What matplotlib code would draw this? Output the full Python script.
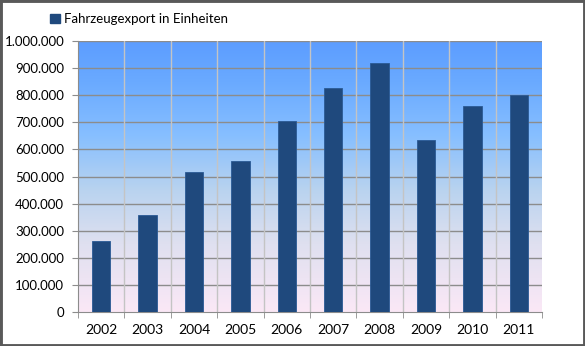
import matplotlib
matplotlib.use("agg")
import matplotlib.pyplot as plt
from matplotlib.colors import LinearSegmentedColormap
from matplotlib.patches import Rectangle, Patch
from matplotlib.ticker import FuncFormatter, MultipleLocator
import numpy as np

# Fahrzeugexport je Jahr
jahre = ["2002", "2003", "2004", "2005", "2006", "2007", "2008", "2009", "2010", "2011"]
export = [261000, 357000, 517000, 558000, 705000, 828000, 920000, 636000, 760000, 800000]

plt.rcParams['font.family'] = ['Lato', 'DejaVu Sans']

fig = plt.figure(figsize=(5.85, 3.46), dpi=100)
ax = fig.add_axes([78 / 585, 1 - 312 / 346, 464 / 585, 271 / 346])

# Hintergrund-Verlauf im Diagrammbereich (oben blau, unten rosa)
verlauf = LinearSegmentedColormap.from_list(
    "verlauf",
    [(0.0, "#fbe8f6"), (0.25, "#dfe0f0"), (0.45, "#b9d3ef"),
     (0.65, "#87bfff"), (0.85, "#6aaaff"), (1.0, "#5c9dff")])
grad = np.linspace(0, 1, 256).reshape(-1, 1)
ax.imshow(grad, cmap=verlauf, origin="lower", aspect="auto",
          extent=[0, 1, 0, 1], transform=ax.transAxes, zorder=0)

x = np.arange(len(jahre))
ax.bar(x, export, width=0.4, color="#1f497d", edgecolor="#2a5a95",
       linewidth=0.6, zorder=3)

ax.set_xlim(-0.5, len(jahre) - 0.5)
ax.set_ylim(0, 1000000)
ax.yaxis.set_major_locator(MultipleLocator(100000))
ax.yaxis.set_major_formatter(FuncFormatter(lambda v, p: f"{int(v):,}".replace(",", ".")))
ax.set_xticks(x)
ax.set_xticklabels(jahre)

# Gitterlinien: waagrecht dunkler, senkrecht an Kategoriengrenzen heller
for v in range(100000, 1000001, 100000):
    ax.axhline(v, color="#8c8c8c", linewidth=1.0, zorder=1)
for b in np.arange(0.5, len(jahre) - 0.5, 1):
    ax.axvline(b, color="#c4c4c4", linewidth=1.0, zorder=1)

ax.set_xticks(np.arange(-0.5, len(jahre), 1), minor=True)
ax.tick_params(axis="x", which="major", length=0, pad=9, labelsize=10, colors="black")
ax.tick_params(axis="x", which="minor", length=4, color="#8c8c8c")
ax.tick_params(axis="y", length=4, color="#8c8c8c", labelsize=9.5, pad=6)

for s in ["top", "right"]:
    ax.spines[s].set_visible(False)
ax.spines["left"].set_color("#8c8c8c")
ax.spines["bottom"].set_color("#8c8c8c")

fig.legend(handles=[Patch(facecolor="#1f497d", edgecolor="#1f497d")],
           labels=["Fahrzeugexport in Einheiten"],
           loc="upper left", bbox_to_anchor=(45 / 585, 1 - 8 / 346),
           frameon=False, fontsize=9.5, handlelength=0.7, handleheight=0.7,
           handletextpad=0.35, borderaxespad=0)

# dunkler Rahmen um die Grafik
fig.patches.append(Rectangle((0, 0), 1, 1, transform=fig.transFigure,
                             fill=False, edgecolor="#595959", linewidth=3.5))

fig.savefig("out.png", dpi=100)
